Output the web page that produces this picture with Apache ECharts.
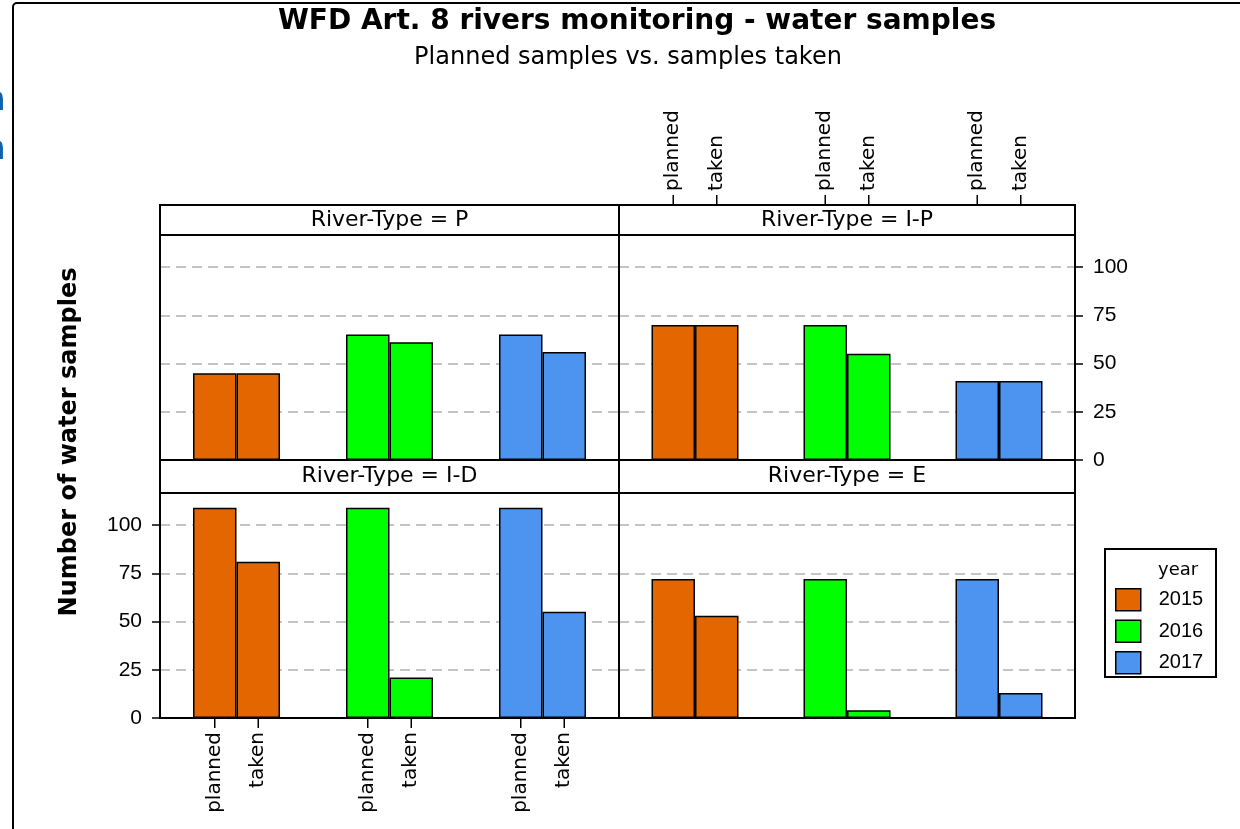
<!DOCTYPE html>
<html>
<head>
<meta charset="utf-8">
<script src="https://cdn.jsdelivr.net/npm/echarts@6/dist/echarts.min.js"></script>
<style>
html,body{margin:0;padding:0;background:#fff;}
#chart{width:1240px;height:829px;}
</style>
</head>
<body>
<div id="chart"></div>
<script>
// ---------------- DATA ----------------
const years = ['2015', '2016', '2017'];
const sampleTypes = ['planned', 'taken'];
const riverTypes = ['P', 'I-P', 'I-D', 'E'];
const plannedP  = [45, 65, 65];
const takenP    = [45, 61, 56];
const plannedIP = [70, 70, 41];
const takenIP   = [70, 55, 41];
const plannedID = [109, 109, 109];
const takenID   = [81, 21, 55];
const plannedE  = [72, 72, 72];
const takenE    = [53, 4, 13];
const titleText = 'WFD Art. 8 rivers monitoring - water samples';
const subtitleText = 'Planned samples vs. samples taken';
const yAxisTitle = 'Number of water samples';
const legendTitle = 'year';

// ---------------- STYLE / LAYOUT ----------------
const yearColors = ['#E36600', '#00FF00', '#4C94F0'];
const FONT = 'DejaVu Sans';
const NUMFONT = 'Liberation Sans';
const yMax = 116.6;
const yStep = 25;
const barW = 43.5;
const panelValues = {
  'P':   [plannedP, takenP],
  'I-P': [plannedIP, takenIP],
  'I-D': [plannedID, takenID],
  'E':   [plannedE, takenE]
};
// panel geometry: [left, top, width, height, stripTop, stripHeight]
const panelBox = {
  'P':   [160, 235, 459, 225, 205, 30],
  'I-P': [619, 235, 456, 225, 205, 30],
  'I-D': [160, 493, 459, 225, 460, 33],
  'E':   [619, 493, 456, 225, 460, 33]
};
const xLabelPanel = {'I-D': 'bottom', 'I-P': 'top'};
const yLabelPanel = {'I-D': 'left', 'I-P': 'right'};

const grids = [], xAxes = [], yAxes = [], series = [], graphics = [];

riverTypes.forEach((rt, i) => {
  const [l, t, w, h, st, sh] = panelBox[rt];
  grids.push({left: l, top: t, width: w, height: h, show: false});
  const catIdx = xAxes.length;
  xAxes.push({type: 'category', gridIndex: i, data: years, show: false, axisLine: {onZero: false}});
  const yl = yLabelPanel[rt];
  yAxes.push({
    type: 'value', gridIndex: i, min: 0, max: yMax, interval: yStep,
    position: yl || 'left',
    axisLine: {show: false, onZero: false},
    axisTick: {show: !!yl, length: 8, lineStyle: {color: '#000', width: 1.5}},
    axisLabel: {show: !!yl, showMaxLabel: false, margin: 18, fontFamily: NUMFONT, fontSize: 21, color: '#000'},
    splitLine: {show: true, lineStyle: {color: '#c4c4c4', width: 2, type: [10, 6]}}
  });
  panelValues[rt].forEach((vals, j) => {
    series.push({
      type: 'bar', name: sampleTypes[j], xAxisIndex: catIdx, yAxisIndex: i,
      data: vals, barWidth: barW, barGap: '0%',
      itemStyle: {color: p => yearColors[p.dataIndex], borderColor: '#000', borderWidth: 1.5},
      emphasis: {disabled: true}
    });
  });
  if (xLabelPanel[rt]) {
    const off = (barW / 2) / (w / years.length);
    const pos = [];
    years.forEach((y, k) => sampleTypes.forEach((s, j) => pos.push(k + (j === 0 ? -off : off))));
    const isTop = xLabelPanel[rt] === 'top';
    const valIdx = xAxes.length;
    xAxes.push({
      type: 'value', gridIndex: i, min: -0.5, max: 2.5,
      position: xLabelPanel[rt], offset: isTop ? sh + 10 : 10,
      axisLine: {show: false, onZero: false}, splitLine: {show: false}, axisTick: {show: false},
      axisLabel: {show: true, customValues: pos, rotate: isTop ? -90 : 90, margin: 4,
        fontFamily: FONT, fontSize: 20, color: '#000',
        formatter: v => (v < Math.round(v) ? sampleTypes[0] : sampleTypes[1])}
    });
    // tick marks at bar centres
    series.push({
      type: 'custom', xAxisIndex: valIdx, yAxisIndex: i, clip: false, silent: true,
      data: pos.map(p => [p]),
      renderItem: (params, api) => {
        const base = api.coord([api.value(0), isTop ? yMax : 0]);
        const y0 = isTop ? base[1] - sh : base[1];
        const y1 = isTop ? y0 - 10 : y0 + 10;
        return {type: 'line', shape: {x1: base[0], y1: y0, x2: base[0], y2: y1},
          style: {stroke: '#000', lineWidth: 1.5}};
      }
    });
  }
  // strip and panel border
  graphics.push({type: 'rect', shape: {x: l, y: st, width: w, height: sh},
    style: {fill: '#fff', stroke: '#000', lineWidth: 2}, z: 10});
  graphics.push({type: 'rect', shape: {x: l, y: t, width: w, height: h},
    style: {fill: 'none', stroke: '#000', lineWidth: 2}, z: 10});
  graphics.push({type: 'text', x: l + w / 2, y: st + sh / 2, z: 11,
    style: {text: 'River-Type = ' + rt, fontFamily: FONT, fontSize: 22, fill: '#000',
      textAlign: 'center', textVerticalAlign: 'middle'}});
});

// dummy series for legend
years.forEach((y, k) => {
  series.push({type: 'scatter', name: y, data: [], xAxisIndex: 0, yAxisIndex: 0,
    itemStyle: {color: yearColors[k], opacity: 1}});
});

// frame and texts
graphics.push({type: 'rect', shape: {x: 13, y: 3, width: 1280, height: 900, r: 4},
  style: {fill: 'none', stroke: '#000', lineWidth: 2}, z: 1});
graphics.push({type: 'text', x: -18, y: 101, style: {text: 'n', fontFamily: FONT, fontWeight: 'bold',
  fontSize: 33, fill: '#0b63b0', textVerticalAlign: 'middle'}});
graphics.push({type: 'text', x: -18, y: 150, style: {text: 'n', fontFamily: FONT, fontWeight: 'bold',
  fontSize: 33, fill: '#0b63b0', textVerticalAlign: 'middle'}});
graphics.push({type: 'text', x: 637, y: 8, style: {text: titleText, fontFamily: FONT, fontWeight: 'bold',
  fontSize: 28, fill: '#000', textAlign: 'center', textVerticalAlign: 'top'}});
graphics.push({type: 'text', x: 628, y: 46, style: {text: subtitleText, fontFamily: FONT,
  fontSize: 24, fill: '#000', textAlign: 'center', textVerticalAlign: 'top'}});
graphics.push({type: 'text', x: 70, y: 442, rotation: Math.PI / 2, style: {text: yAxisTitle, fontFamily: FONT,
  fontWeight: 'bold', fontSize: 24, fill: '#000', textAlign: 'center', textVerticalAlign: 'middle'}});
graphics.push({type: 'rect', shape: {x: 1105, y: 549, width: 111, height: 128},
  style: {fill: '#fff', stroke: '#000', lineWidth: 2}, z: 0});
graphics.push({type: 'text', x: 1158, y: 570, style: {text: legendTitle, fontFamily: FONT,
  fontSize: 18, fill: '#000', textVerticalAlign: 'middle'}});

const chart = echarts.init(document.getElementById('chart'), null, {renderer: 'canvas'});
chart.setOption({
  animation: false,
  backgroundColor: '#fff',
  grid: grids,
  xAxis: xAxes,
  yAxis: yAxes,
  series: series,
  legend: {
    data: years, orient: 'vertical', left: 1115, top: 588, padding: 0,
    itemWidth: 25, itemHeight: 22, itemGap: 8, icon: 'rect', selectedMode: false,
    itemStyle: {borderColor: '#000', borderWidth: 1.5, opacity: 1},
    textStyle: {fontFamily: NUMFONT, fontSize: 20, color: '#000', padding: [0, 0, 0, 13]}
  },
  graphic: graphics
});
</script>
</body>
</html>
